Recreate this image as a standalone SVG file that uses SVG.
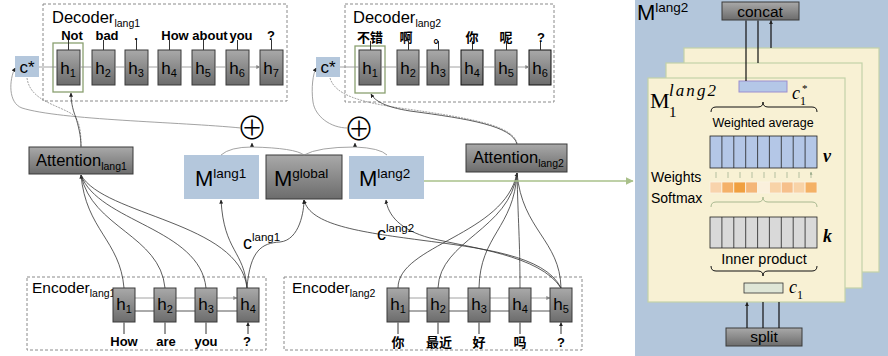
<svg xmlns="http://www.w3.org/2000/svg" width="888" height="356" viewBox="0 0 888 356">
<defs>
<linearGradient id="g" x1="0" y1="0" x2="0" y2="1"><stop offset="0" stop-color="#a9a9a9"/><stop offset="1" stop-color="#6c6c6c"/></linearGradient>
<marker id="a" viewBox="0 0 6 6" refX="5.5" refY="3" markerWidth="4" markerHeight="4" markerUnits="userSpaceOnUse" orient="auto"><path d="M0,0 L6,3 L0,6 z" fill="#222"/></marker>
<marker id="ag" viewBox="0 0 6 6" refX="5.5" refY="3" markerWidth="4" markerHeight="4" markerUnits="userSpaceOnUse" orient="auto"><path d="M0,0 L6,3 L0,6 z" fill="#888"/></marker>
<marker id="agr" viewBox="0 0 6 6" refX="5.5" refY="3" markerWidth="8" markerHeight="8" markerUnits="userSpaceOnUse" orient="auto"><path d="M0,0 L6,3 L0,6 z" fill="#a9c08a"/></marker>
<marker id="at" viewBox="0 0 6 6" refX="5.5" refY="3" markerWidth="3" markerHeight="3" markerUnits="userSpaceOnUse" orient="auto"><path d="M0,0 L6,3 L0,6 z" fill="#9aaa8a"/></marker>
<style>
.s{font-family:"Liberation Sans",Arial,sans-serif;fill:#000}
.w{font-family:"Liberation Sans","Noto Sans CJK SC",sans-serif;font-weight:bold;font-size:13px;text-anchor:middle;fill:#000}
.h{font-size:17px;text-anchor:middle}
.m{font-family:"Liberation Serif","Times New Roman",serif;fill:#000}
.dash{fill:none;stroke:#8a8a8a;stroke-width:1;stroke-dasharray:3,2}
.hb{fill:url(#g);stroke:#3a3a3a;stroke-width:1}
.blue{fill:#b4c7dc}
.ln{fill:none;stroke:#333;stroke-width:0.8}
.gl{fill:none;stroke:#8c8c8c;stroke-width:0.8}
.th{fill:none;stroke:#aaa;stroke-width:2}
.tick{fill:none;stroke:#333;stroke-width:1}
.cream{fill:#f8f1d4;stroke:#c3d2a8;stroke-width:1.2}
.cell{stroke:#222;stroke-width:0.8}
.br{fill:none;stroke:#111;stroke-width:1}
.plus{font-family:"Noto Sans CJK SC",sans-serif;font-size:31px;font-weight:300;text-anchor:middle;fill:#000}
</style>
</defs>

<!-- right panel background -->
<rect id="panel-bg" x="635" y="0" width="253" height="356" fill="#b3c6db"/>

<!-- Decoder lang1 -->
<g id="decoder-lang1">
<rect class="dash" x="43" y="4" width="244" height="97"/>
<text class="s" x="52" y="23" font-size="16.5">Decoder<tspan font-size="10.5" dy="4">lang1</tspan></text>
<rect x="53" y="43" width="30" height="49" fill="none" stroke="#8aa070" stroke-width="1.3"/>
<g class="hb">
<rect x="57" y="50" width="23" height="35"/><rect x="92" y="50" width="23" height="35"/><rect x="125" y="50" width="23" height="35"/><rect x="158" y="50" width="23" height="35"/><rect x="192" y="50" width="23" height="35"/><rect x="226" y="50" width="23" height="35"/><rect x="260" y="50" width="23" height="35"/>
</g>
<g class="s h">
<text x="68" y="74">h<tspan font-size="11" dy="3">1</tspan></text>
<text x="103" y="74">h<tspan font-size="11" dy="3">2</tspan></text>
<text x="136" y="74">h<tspan font-size="11" dy="3">3</tspan></text>
<text x="169" y="74">h<tspan font-size="11" dy="3">4</tspan></text>
<text x="203" y="74">h<tspan font-size="11" dy="3">5</tspan></text>
<text x="237" y="74">h<tspan font-size="11" dy="3">6</tspan></text>
<text x="271" y="74">h<tspan font-size="11" dy="3">7</tspan></text>
</g>
<g class="tick"><path d="M68.5,50V40M103.5,50V40M136.5,50V40M169.5,50V40M203.5,50V40M237.5,50V40M271.5,50V40"/></g>
<text class="w" x="72" y="40">Not</text>
<text class="w" x="107" y="40">bad</text>
<text class="w" x="136" y="40">.</text>
<text class="w" x="175" y="40">How</text>
<text class="w" x="210" y="40">about</text>
<text class="w" x="241" y="40">you</text>
<text class="w" x="271" y="40">?</text>
</g>
<g id="cstar-lang1">
<rect class="blue" x="15" y="56" width="24" height="21"/>
<text class="s" x="27" y="73" font-size="17" text-anchor="middle">c*</text>
</g>

<!-- Decoder lang2 -->
<g id="decoder-lang2">
<rect class="dash" x="345" y="4" width="209" height="98"/>
<text class="s" x="353" y="23" font-size="16.5">Decoder<tspan font-size="10.5" dy="4">lang2</tspan></text>
<rect x="355" y="46" width="30" height="47" fill="none" stroke="#8aa070" stroke-width="1.3"/>
<g class="hb">
<rect x="359" y="50" width="22" height="35"/><rect x="397" y="50" width="22" height="35"/><rect x="427" y="50" width="22" height="35"/><rect x="461" y="50" width="22" height="35" stroke="#111"/><rect x="495" y="50" width="22" height="35"/><rect x="529" y="50" width="22" height="35" stroke="#111"/>
</g>
<g class="s h">
<text x="370" y="74">h<tspan font-size="11" dy="3">1</tspan></text>
<text x="408" y="74">h<tspan font-size="11" dy="3">2</tspan></text>
<text x="438" y="74">h<tspan font-size="11" dy="3">3</tspan></text>
<text x="472" y="74">h<tspan font-size="11" dy="3">4</tspan></text>
<text x="506" y="74">h<tspan font-size="11" dy="3">5</tspan></text>
<text x="540" y="74">h<tspan font-size="11" dy="3">6</tspan></text>
</g>
<g class="tick"><path d="M370.5,50V41M408.5,50V41M438.5,50V41M472.5,50V41M506.5,50V41M540.5,50V41"/></g>
<text class="w" x="370" y="42">不错</text>
<text class="w" x="406" y="42">啊</text>
<text class="w" x="440" y="42">。</text>
<text class="w" x="472" y="42">你</text>
<text class="w" x="506" y="42">呢</text>
<text class="w" x="541" y="42">?</text>
</g>
<g id="cstar-lang2">
<rect class="blue" x="316" y="57" width="24" height="20"/>
<text class="s" x="328" y="73" font-size="17" text-anchor="middle">c*</text>
</g>

<!-- Attention -->
<g id="attention-lang1">
<rect class="hb" x="29" y="147" width="104" height="27"/>
<text class="s" x="36" y="166" font-size="16.5">Attention<tspan font-size="10.5" dy="4">lang1</tspan></text>
</g>
<g id="attention-lang2">
<rect class="hb" x="466" y="144" width="101" height="28"/>
<text class="s" x="473" y="163" font-size="16.5">Attention<tspan font-size="10.5" dy="4">lang2</tspan></text>
</g>

<!-- plus -->
<g id="plus-lang1"><text class="plus" x="252" y="139">⊕</text></g>
<g id="plus-lang2"><text class="plus" x="359" y="139.5">⊕</text></g>

<!-- memories -->
<g id="m-lang1">
<rect class="blue" x="184" y="155" width="75" height="44"/>
<text class="s" x="195" y="186" font-size="22">M<tspan font-size="13.5" dy="-8">lang1</tspan></text>
</g>
<g id="m-global">
<rect class="hb" x="266" y="155" width="76" height="44" stroke="#222" stroke-width="1.2"/>
<text class="s" x="274" y="186" font-size="22">M<tspan font-size="13.5" dy="-8">global</tspan></text>
</g>
<g id="m-lang2">
<rect class="blue" x="349" y="156" width="75" height="43"/>
<text class="s" x="359" y="186" font-size="22">M<tspan font-size="13.5" dy="-8">lang2</tspan></text>
</g>

<!-- Encoder lang1 -->
<g id="encoder-lang1">
<rect class="dash" x="27" y="277" width="239" height="73"/>
<text class="s" x="32" y="293" font-size="15.5">Encoder<tspan font-size="10.5" dy="4">lang1</tspan></text>
<g class="gl"><path marker-end="url(#ag)" d="M135,298H154M176,298H195M217,298H237"/></g>
<g class="th"><path d="M154,311H135M195,311H176M237,311H217"/></g>
<g class="hb">
<rect x="113" y="288" width="22" height="34"/><rect x="154" y="288" width="22" height="34"/><rect x="195" y="288" width="22" height="34"/><rect x="237" y="288" width="22" height="34"/>
</g>
<g class="s h">
<text x="124" y="310">h<tspan font-size="11" dy="3">1</tspan></text>
<text x="165" y="310">h<tspan font-size="11" dy="3">2</tspan></text>
<text x="206" y="310">h<tspan font-size="11" dy="3">3</tspan></text>
<text x="248" y="310">h<tspan font-size="11" dy="3">4</tspan></text>
</g>
<g class="tick"><path marker-end="url(#a)" d="M124,334V322.5M165,334V322.5M206,334V322.5M248,334V322.5"/></g>
<text class="w" x="124" y="346">How</text>
<text class="w" x="166" y="346">are</text>
<text class="w" x="206" y="346">you</text>
<text class="w" x="247" y="346">?</text>
</g>

<!-- Encoder lang2 -->
<g id="encoder-lang2">
<rect class="dash" x="284" y="277" width="298" height="73"/>
<text class="s" x="292" y="293" font-size="15.5">Encoder<tspan font-size="10.5" dy="4">lang2</tspan></text>
<g class="gl"><path marker-end="url(#ag)" d="M409,298H427M449,298H468M490,298H509M531,298H550"/></g>
<g class="th"><path d="M427,311H409M468,311H449M509,311H490M550,311H531"/></g>
<g class="hb">
<rect x="387" y="288" width="22" height="34"/><rect x="427" y="288" width="22" height="34"/><rect x="468" y="288" width="22" height="34"/><rect x="509" y="288" width="22" height="34"/><rect x="550" y="288" width="22" height="34"/>
</g>
<g class="s h">
<text x="398" y="310">h<tspan font-size="11" dy="3">1</tspan></text>
<text x="438" y="310">h<tspan font-size="11" dy="3">2</tspan></text>
<text x="479" y="310">h<tspan font-size="11" dy="3">3</tspan></text>
<text x="520" y="310">h<tspan font-size="11" dy="3">4</tspan></text>
<text x="561" y="310">h<tspan font-size="11" dy="3">5</tspan></text>
</g>
<g class="tick"><path marker-end="url(#a)" d="M398,334V322.5M438,334V322.5M479,334V322.5M520,334V322.5M561,334V322.5"/></g>
<text class="w" x="398" y="347">你</text>
<text class="w" x="439" y="347">最近</text>
<text class="w" x="479" y="347">好</text>
<text class="w" x="520" y="347">吗</text>
<text class="w" x="561" y="347">?</text>
</g>

<!-- connectors -->
<g id="connectors">
<path class="gl" marker-end="url(#ag)" d="M39,67H57M80,67H92M115,67H125M148,67H158M181,67H192M215,67H226M249,67H260"/>
<path class="gl" marker-end="url(#ag)" d="M340,67H359M381,67H397M419,67H427M449,67H461M483,67H495M517,67H529"/>
<path class="gl" marker-end="url(#a)" d="M241,128 C180,122 60,120 22,108 C8,103 9,80 15,68"/>
<path class="gl" stroke-dasharray="2,1" d="M27,78 C30,100 55,104 72,114 C80,120 81,132 81,146"/>
<path class="ln" marker-end="url(#a)" d="M81,147 C81,135 78,125 76,118 C72,108 71,100 71,93"/>
<path class="gl" marker-end="url(#a)" d="M348,128 C330,128 315,116 313,102 C311,88 313,74 316,68"/>
<path class="gl" stroke-dasharray="2,1" d="M330,78 C335,95 360,102 400,108 C470,118 512,125 517,143"/>
<path class="ln" marker-end="url(#a)" d="M517,144 C512,126 470,119 410,111 C385,107 375,101 371,94"/>
<path class="gl" d="M221,155 Q230,147 252,147 Q295,148 304,155"/>
<path class="gl" marker-end="url(#a)" d="M252,147V143"/>
<path class="gl" d="M304,155 Q318,147 355,147 Q380,148 387,155"/>
<path class="gl" marker-end="url(#a)" d="M355,147V143"/>
<path class="ln" marker-end="url(#a)" d="M124,288 C120,240 86,230 81,175"/>
<path class="ln" d="M165,288 C160,235 92,228 81,175"/>
<path class="ln" d="M206,288 C200,228 98,222 81,175"/>
<path class="ln" d="M247,288 C240,222 104,216 81,175"/>
<path class="ln" marker-end="url(#a)" d="M247,288 C244,250 224,252 221,200"/>
<path class="ln" marker-end="url(#a)" d="M247,288 C250,250 262,243 280,242 C300,240 304,210 304,200"/>
<path class="ln" marker-end="url(#a)" d="M398,288 C398,245 505,235 517,173"/>
<path class="ln" d="M438,288 C440,240 510,230 517,173"/>
<path class="ln" d="M479,288 C480,235 514,228 517,173"/>
<path class="ln" d="M520,288 C520,240 518,220 517,173"/>
<path class="ln" d="M561,288 C560,240 522,230 517,173"/>
<path class="ln" marker-end="url(#a)" d="M561,288 C545,255 480,248 420,240 C360,232 310,225 304,200"/>
<path class="ln" marker-end="url(#a)" d="M561,288 C540,255 470,248 430,238 C400,230 388,215 386,200"/>
<path fill="none" stroke="#a9c08a" stroke-width="1.5" marker-end="url(#agr)" d="M424,181H633"/>
</g>
<text class="s" x="243" y="249" font-size="18">c<tspan font-size="11.5" dy="-8">lang1</tspan></text>
<text class="s" x="377" y="240" font-size="18">c<tspan font-size="11.5" dy="-8">lang2</tspan></text>

<!-- right panel -->
<g id="panel-mlang2">
<text class="s" x="637" y="20" font-size="22">M<tspan font-size="13.5" dy="-8">lang2</tspan></text>
</g>
<g id="concat">
<rect class="hb" x="722" y="2" width="77" height="18" stroke="#222"/>
<text class="s" x="760" y="17" font-size="15.5" text-anchor="middle">concat</text>
</g>
<g id="heads">
<rect class="cream" x="684" y="48" width="195" height="224"/>
<rect class="cream" x="666" y="63" width="196" height="225"/>
<rect class="cream" x="648" y="78" width="197" height="224"/>
</g>
<g id="head-1">
<text class="m" x="650" y="108" font-size="22">M</text>
<text class="m" x="669" y="96" font-size="17" font-style="italic" textLength="47">lang2</text>
<text class="m" x="669" y="117" font-size="15">1</text>
<rect x="739" y="81" width="48" height="11" fill="#b4c7e7" stroke="#9b8fd0" stroke-width="1"/>
<text class="m" x="792" y="99" font-size="18" font-style="italic">c</text>
<text class="m" x="800" y="105" font-size="12">1</text>
<text class="m" x="802" y="92" font-size="11">*</text>
<path class="br" d="M711,112 Q711,107 716,107 L758,107 Q763,107 763,102 Q763,107 768,107 L812,107 Q817,107 817,112"/>
<text class="s" x="763" y="127" font-size="12.5" text-anchor="middle">Weighted average</text>
<rect class="cell" x="710" y="136" width="107" height="32" fill="#b4c7e7"/>
<path class="cell" d="M721.9,136V168M733.8,136V168M745.7,136V168M757.6,136V168M769.4,136V168M781.3,136V168M793.2,136V168M805.1,136V168"/>
<text class="m" x="823" y="162" font-size="18" font-weight="bold" font-style="italic">v</text>
<path fill="none" stroke="#9aaa8a" stroke-width="0.7" marker-end="url(#at)" d="M716,178V172M728,178V172M740,178V172M752,178V172M764,178V172M775,178V172M787,178V172M799,178V172M811,178V172"/>
<g stroke="#fbf3e3" stroke-width="0.8">
<rect x="710" y="182" width="11.9" height="11" fill="#f8d3ac"/>
<rect x="721.9" y="182" width="11.9" height="11" fill="#f4b169"/>
<rect x="733.8" y="182" width="11.9" height="11" fill="#f0a040"/>
<rect x="745.7" y="182" width="11.9" height="11" fill="#f4b678"/>
<rect x="757.6" y="182" width="11.9" height="11" fill="#faf0dc"/>
<rect x="769.4" y="182" width="11.9" height="11" fill="#f8d3a8"/>
<rect x="781.3" y="182" width="11.9" height="11" fill="#f6c08c"/>
<rect x="793.2" y="182" width="11.9" height="11" fill="#f8d3a8"/>
<rect x="805.1" y="182" width="11.9" height="11" fill="#f4b165"/>
</g>
<text class="s" x="651" y="182" font-size="14">Weights</text>
<text class="s" x="651" y="203" font-size="14">Softmax</text>
<path fill="none" stroke="#a8b890" stroke-width="1" d="M711,207 Q711,202 716,202 L758,202 Q763,202 763,197 Q763,202 768,202 L812,202 Q817,202 817,207"/>
<rect class="cell" x="710" y="217" width="107" height="31" fill="#d9d9d9"/>
<path class="cell" d="M721.9,217V248M733.8,217V248M745.7,217V248M757.6,217V248M769.4,217V248M781.3,217V248M793.2,217V248M805.1,217V248"/>
<text class="m" x="823" y="242" font-size="18" font-weight="bold" font-style="italic">k</text>
<text class="s" x="764" y="264" font-size="14.5" text-anchor="middle">Inner product</text>
<path class="br" d="M711,266 Q711,271 716,271 L758,271 Q763,271 763,276 Q763,271 768,271 L812,271 Q817,271 817,266"/>
<rect x="744" y="283" width="39" height="10" fill="#dfe6d6" stroke="#333" stroke-width="0.8"/>
<text class="m" x="789" y="293" font-size="18" font-style="italic">c</text>
<text class="m" x="797" y="299" font-size="12">1</text>
</g>
<g id="split">
<rect class="hb" x="726" y="328" width="76" height="18" stroke="#222"/>
<text class="s" x="764" y="342" font-size="15.5" text-anchor="middle">split</text>
</g>
<g id="panel-connectors">
<path fill="none" stroke="#111" stroke-width="1.2" marker-end="url(#a)" d="M746,81V20.5M758,63V20.5M771,48V20.5"/>
<path fill="none" stroke="#111" stroke-width="1.2" marker-end="url(#a)" d="M747,328V302.5"/>
<path fill="none" stroke="#111" stroke-width="1.2" d="M763,328V302M779,328V302"/>
</g>
</svg>
